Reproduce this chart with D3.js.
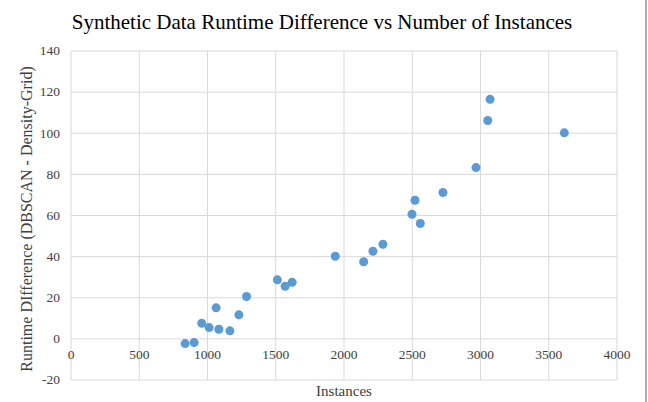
<!DOCTYPE html>
<html>
<head>
<meta charset="utf-8">
<script src="https://cdn.jsdelivr.net/npm/d3@7"></script>
<style>
  body { margin: 0; background: #fff; }
  text { font-family: "Liberation Serif", "Times New Roman", serif; fill: #404040; }
</style>
</head>
<body>
<div id="chart"></div>
<script>
// instances vs runtime difference
const instances = [836, 902, 958, 1012, 1063, 1083, 1164, 1230, 1286, 1512, 1569, 1620,
    1936, 2144, 2212, 2285, 2498, 2559, 2520, 2725, 2967, 3053, 3070, 3614];
const runtimeDiff = [-2.3, -1.8, 7.6, 5.5, 15.1, 4.7, 3.9, 11.7, 20.6, 28.7, 25.6, 27.5,
    40.2, 37.5, 42.6, 46.0, 60.6, 56.1, 67.4, 71.2, 83.3, 106.2, 116.5, 100.2];
const xTicks = [0, 500, 1000, 1500, 2000, 2500, 3000, 3500, 4000];
const yTicks = [-20, 0, 20, 40, 60, 80, 100, 120, 140];

let w = 648, h = 402;
let margin = {left: 71, right: 31, top: 51, bottom: 22};

let svg = d3.select("#chart").append("svg")
    .attr("width", w)
    .attr("height", h);

let x = d3.scaleLinear()
    .domain([0, 4000])
    .range([margin.left, w - margin.right]);
let y = d3.scaleLinear()
    .domain([-20, 140])
    .range([h - margin.bottom, margin.top]);

// gridlines
svg.append("g").selectAll("line.h")
    .data(yTicks)
    .join("line")
    .attr("x1", x(0)).attr("x2", x(4000))
    .attr("y1", d => y(d)).attr("y2", d => y(d))
    .attr("stroke", "#d9d9d9").attr("stroke-width", 1);
svg.append("g").selectAll("line.v")
    .data(xTicks)
    .join("line")
    .attr("x1", d => x(d)).attr("x2", d => x(d))
    .attr("y1", y(-20)).attr("y2", y(140))
    .attr("stroke", "#d9d9d9").attr("stroke-width", 1);

// y tick labels
svg.append("g").selectAll("text")
    .data(yTicks)
    .join("text")
    .attr("x", x(0) - 11)
    .attr("y", d => y(d))
    .attr("dy", "0.32em")
    .attr("text-anchor", "end")
    .attr("font-size", 13.5)
    .text(d => d);

// x tick labels sit under the zero line
svg.append("g").selectAll("text")
    .data(xTicks)
    .join("text")
    .attr("x", d => x(d))
    .attr("y", y(0) + 16)
    .attr("dy", "0.32em")
    .attr("text-anchor", "middle")
    .attr("font-size", 13.5)
    .text(d => d);

// points
svg.append("g").selectAll("circle")
    .data(instances.map((d, i) => [d, runtimeDiff[i]]))
    .join("circle")
    .attr("cx", d => x(d[0]))
    .attr("cy", d => y(d[1]))
    .attr("r", 4.5)
    .attr("fill", "#5b9bd5");

// title and axis titles
svg.append("text")
    .attr("x", 322).attr("y", 29)
    .attr("text-anchor", "middle")
    .attr("font-size", 21)
    .style("fill", "#000")
    .text("Synthetic Data Runtime Difference vs Number of Instances");

svg.append("text")
    .attr("x", 344).attr("y", 396)
    .attr("text-anchor", "middle")
    .attr("font-size", 15)
    .text("Instances");

svg.append("text")
    .attr("transform", "translate(32, 219) rotate(-90)")
    .attr("text-anchor", "middle")
    .attr("font-size", 16)
    .text("Runtime DIfference (DBSCAN - Density-Grid)");

// chart frame edge on the right
svg.append("line")
    .attr("x1", 646).attr("x2", 646)
    .attr("y1", 0).attr("y2", h)
    .attr("stroke", "#595959").attr("stroke-width", 1);
</script>
</body>
</html>
